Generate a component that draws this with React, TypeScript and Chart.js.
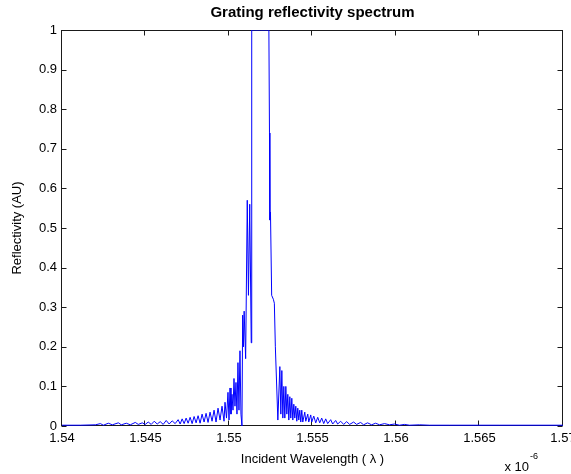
import React, { useEffect, useRef } from "react";
import { Chart, registerables } from "chart.js";

Chart.register(...registerables);

const chartTitle = "Grating reflectivity spectrum";
const xAxisTitle = "Incident Wavelength ( λ )";
const yAxisTitle = "Reflectivity (AU)";
const xExponentBase = "x 10";
const xExponent = "-6";

const xTickValues = [1.54, 1.545, 1.55, 1.555, 1.56, 1.565, 1.57];
const yTickValues = [0, 0.1, 0.2, 0.3, 0.4, 0.5, 0.6, 0.7, 0.8, 0.9, 1];

const wavelength = [
  1.54, 1.541105, 1.542, 1.542299, 1.542478, 1.542776, 1.543015, 1.543373, 1.543552, 1.543851,
  1.54409, 1.544388, 1.544567, 1.544806, 1.544985, 1.545164, 1.545343, 1.545523, 1.545702, 1.545881,
  1.54606, 1.546239, 1.546418, 1.546597, 1.546776, 1.546955, 1.547075, 1.547194, 1.547314, 1.547433,
  1.547552, 1.547672, 1.547791, 1.547911, 1.54803, 1.548149, 1.548269, 1.548388, 1.548508, 1.548627,
  1.548746, 1.548866, 1.548985, 1.549105, 1.549224, 1.549343, 1.549463, 1.549582, 1.549702, 1.549761,
  1.549851, 1.54994, 1.55, 1.55006, 1.550119, 1.550179, 1.550239, 1.550299, 1.550358, 1.550418,
  1.550478, 1.550537, 1.550597, 1.550657, 1.550716, 1.550776, 1.550818, 1.550866, 1.550907, 1.550997,
  1.551093, 1.551164, 1.551242, 1.551331, 1.551361, 1.5519, 1.552388, 1.552424, 1.552448, 1.552484,
  1.552555, 1.552656, 1.552716, 1.552776, 1.552925, 1.553045, 1.553104, 1.553164, 1.553224, 1.553283,
  1.553343, 1.553403, 1.553463, 1.553522, 1.553582, 1.553642, 1.553701, 1.553761, 1.553821, 1.553881,
  1.55394, 1.554, 1.55406, 1.554119, 1.554179, 1.554239, 1.554299, 1.554358, 1.554418, 1.554537,
  1.554597, 1.554716, 1.554776, 1.554895, 1.554955, 1.555075, 1.555194, 1.555313, 1.555433, 1.555552,
  1.555672, 1.555791, 1.55591, 1.556089, 1.556209, 1.556388, 1.556507, 1.556686, 1.556866, 1.557045,
  1.557224, 1.557463, 1.557642, 1.55788, 1.55806, 1.558298, 1.558537, 1.558776, 1.559015, 1.559313,
  1.559612, 1.55991, 1.560209, 1.560507, 1.560806, 1.561403, 1.562, 1.563194, 1.566179, 1.57,
];

const reflectivity = [
  0.002, 0.002, 0.003, 0.006, 0.002, 0.007, 0.003, 0.008, 0.003, 0.007,
  0.003, 0.009, 0.004, 0.008, 0.004, 0.01, 0.004, 0.012, 0.005, 0.011,
  0.004, 0.014, 0.005, 0.013, 0.006, 0.016, 0.005, 0.018, 0.006, 0.02,
  0.007, 0.022, 0.006, 0.024, 0.008, 0.026, 0.007, 0.03, 0.01, 0.032,
  0.009, 0.035, 0.012, 0.04, 0.01, 0.045, 0.015, 0.05, 0.012, 0.06,
  0.02, 0.085, 0.015, 0.096, 0.03, 0.08, 0.04, 0.12, 0.05, 0.11,
  0.03, 0.16, 0.04, 0.19, 0.03, 0.0, 0.28, 0.2, 0.29, 0.17,
  0.57, 0.33, 0.56, 0.21, 1.0, 1.0, 1.0, 0.74, 0.52, 0.54,
  0.33, 0.32, 0.31, 0.2, 0.015, 0.15, 0.03, 0.14, 0.02, 0.1,
  0.02, 0.1, 0.03, 0.08, 0.015, 0.074, 0.02, 0.07, 0.015, 0.055,
  0.02, 0.05, 0.012, 0.045, 0.015, 0.04, 0.01, 0.04, 0.01, 0.035,
  0.012, 0.03, 0.01, 0.028, 0.01, 0.025, 0.008, 0.022, 0.008, 0.02,
  0.006, 0.018, 0.006, 0.016, 0.005, 0.014, 0.005, 0.012, 0.004, 0.011,
  0.004, 0.01, 0.004, 0.009, 0.003, 0.008, 0.003, 0.007, 0.003, 0.006,
  0.003, 0.005, 0.002, 0.004, 0.002, 0.003, 0.002, 0.002, 0.002, 0.002,
];

const FONT = '"Liberation Sans", Arial, Helvetica, sans-serif';

const framePlugin = {
  id: "matlabFrame",
  beforeDatasetsDraw(chart: any) {
    const { ctx, chartArea } = chart;
    const l = Math.round(chartArea.left) - 0.5;
    const r = Math.round(chartArea.right) - 0.5;
    const t = Math.round(chartArea.top) + 0.5;
    const b = Math.round(chartArea.bottom) - 0.5;
    ctx.save();
    ctx.strokeStyle = "#1a1a1a";
    ctx.lineWidth = 1;
    ctx.strokeRect(l, t, r - l, b - t);
    const tl = 5;
    ctx.beginPath();
    for (const v of xTickValues) {
      const x = Math.round(chart.scales.x.getPixelForValue(v)) - 0.5;
      ctx.moveTo(x, b);
      ctx.lineTo(x, b - tl);
      ctx.moveTo(x, t);
      ctx.lineTo(x, t + tl);
    }
    for (const v of yTickValues) {
      const y = Math.round(chart.scales.y.getPixelForValue(v)) + 0.5;
      ctx.moveTo(l, y);
      ctx.lineTo(l + tl, y);
      ctx.moveTo(r, y);
      ctx.lineTo(r - tl, y);
    }
    ctx.stroke();
    ctx.restore();
  },
  afterDraw(chart: any) {
    const { ctx, chartArea } = chart;
    const cx = (chartArea.left + chartArea.right) / 2;
    const cy = (chartArea.top + chartArea.bottom) / 2;
    ctx.save();
    ctx.fillStyle = "#000";
    ctx.textAlign = "center";
    ctx.textBaseline = "middle";
    ctx.font = `bold 15px ${FONT}`;
    ctx.fillText(chartTitle, cx, 13);
    ctx.font = `13px ${FONT}`;
    ctx.fillText(xAxisTitle, cx, 459);
    ctx.save();
    ctx.translate(17, cy);
    ctx.rotate(-Math.PI / 2);
    ctx.fillText(yAxisTitle, 0, 0);
    ctx.restore();
    ctx.textAlign = "right";
    ctx.font = `13px ${FONT}`;
    ctx.fillText(xExponentBase, 529, 467);
    ctx.textAlign = "left";
    ctx.font = `9px ${FONT}`;
    ctx.fillText(xExponent, 530, 457);
    ctx.restore();
  },
};

export default function App() {
  const ref = useRef<HTMLCanvasElement | null>(null);
  useEffect(() => {
    if (!ref.current) return;
    const points = wavelength.map((w, i) => ({ x: w, y: reflectivity[i] }));
    const chart = new Chart(ref.current, {
      type: "line",
      data: {
        datasets: [
          {
            data: points,
            borderColor: "#0000ff",
            borderWidth: 1,
            pointRadius: 0,
            tension: 0,
            fill: false,
          },
        ],
      },
      options: {
        responsive: false,
        animation: false,
        devicePixelRatio: 1,
        layout: { padding: { top: 30, right: 8, left: 0, bottom: 0 } },
        plugins: { legend: { display: false }, tooltip: { enabled: false }, title: { display: false } },
        scales: {
          x: {
            type: "linear",
            min: 1.54,
            max: 1.57,
            afterBuildTicks: (scale: any) => {
              scale.ticks = xTickValues.map((v) => ({ value: v }));
            },
            afterFit: (scale: any) => {
              scale.height = 48;
              scale.paddingLeft = 0;
              scale.paddingRight = 0;
            },
            grid: { display: false, drawTicks: false },
            border: { display: false },
            ticks: {
              padding: 5,
              color: "#000",
              font: { family: FONT, size: 13 },
              maxRotation: 0,
              autoSkip: false,
              callback: (v: any) => String(Number(Number(v).toFixed(3))),
            },
          },
          y: {
            type: "linear",
            min: 0,
            max: 1,
            afterBuildTicks: (scale: any) => {
              scale.ticks = yTickValues.map((v) => ({ value: v }));
            },
            afterFit: (scale: any) => {
              scale.width = 62;
              scale.paddingTop = 0;
              scale.paddingBottom = 0;
            },
            grid: { display: false, drawTicks: false },
            border: { display: false },
            ticks: {
              padding: 5,
              color: "#000",
              font: { family: FONT, size: 13 },
              autoSkip: false,
              callback: (v: any) => String(Number(Number(v).toFixed(1))),
            },
          },
        },
      },
      plugins: [framePlugin],
    });
    return () => chart.destroy();
  }, []);
  return (
    <div style={{ position: "fixed", left: 0, top: 0, width: 571, height: 474, background: "#fff" }}>
      <canvas ref={ref} width={571} height={474} style={{ display: "block" }} />
    </div>
  );
}
